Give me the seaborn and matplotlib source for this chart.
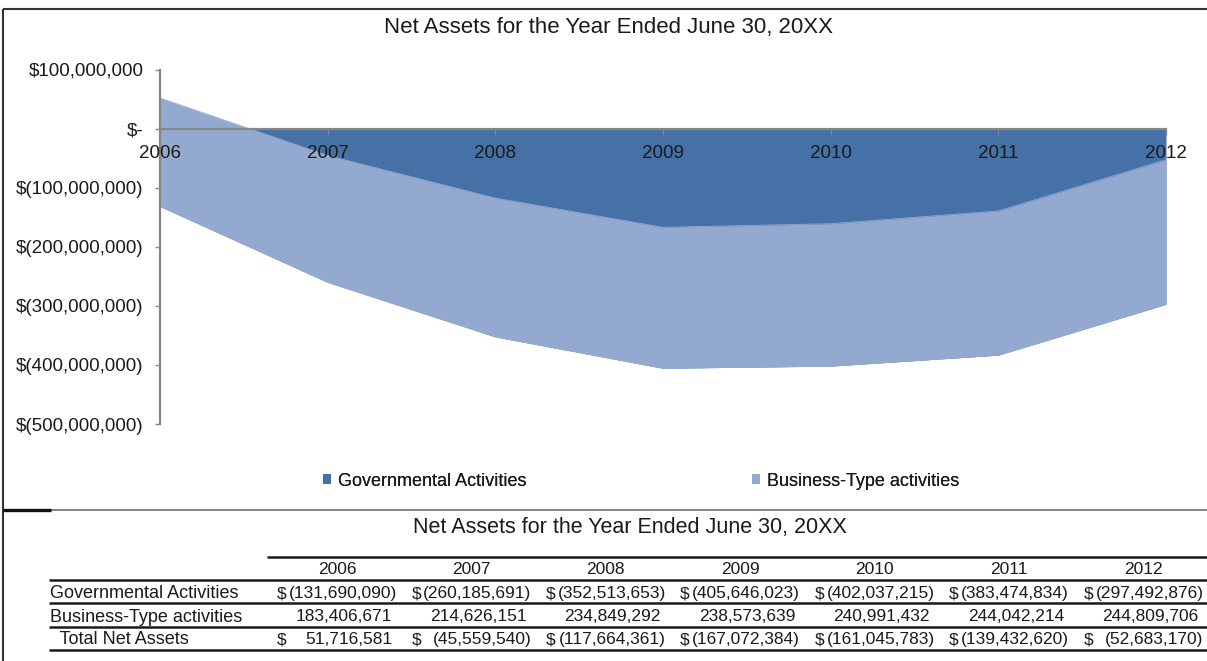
import matplotlib
matplotlib.use("Agg")
import matplotlib.pyplot as plt
from matplotlib.lines import Line2D
from matplotlib.patches import Patch
from matplotlib.ticker import FuncFormatter
import seaborn as sns

# ---- data ----
years = [2006, 2007, 2008, 2009, 2010, 2011, 2012]
gov = [-131690090, -260185691, -352513653, -405646023, -402037215, -383474834, -297492876]
bus = [183406671, 214626151, 234849292, 238573639, 240991432, 244042214, 244809706]
total = [51716581, -45559540, -117664361, -167072384, -161045783, -139432620, -52683170]
series_names = ["Governmental Activities", "Business-Type activities"]
row_labels = ["Governmental Activities", "Business-Type activities", "  Total Net Assets"]
title = "Net Assets for the Year Ended June 30, 20XX"
yticks = [100000000, 0, -100000000, -200000000, -300000000, -400000000, -500000000]

DARK = "#4571a7"
LIGHT = "#94a9d0"
GREY = "#878787"

sns.set_style("white")
plt.rcParams["font.family"] = ["Liberation Sans", "DejaVu Sans"]
plt.rcParams["text.color"] = "#1a1a1a"

W, H = 1207, 661
fig = plt.figure(figsize=(W / 100, H / 100), dpi=100)


def fx(px):
    return px / W


def fy(py):
    return 1 - py / H


ax = fig.add_axes([fx(160), fy(424), fx(1166) - fx(160), fy(69.5) - fy(424)])

# areas (stacked): governmental from 0, business on top
ax.fill_between(years, 0, gov, color=DARK, linewidth=0, zorder=1)
ax.fill_between(years, gov, total, color=LIGHT, linewidth=0, zorder=1.1)
sns.lineplot(x=years, y=gov, ax=ax, color=LIGHT, linewidth=0.6, zorder=1.2, legend=False)
sns.lineplot(x=years, y=total, ax=ax, color=LIGHT, linewidth=0.6, zorder=1.2, legend=False)

ax.set_xlim(years[0], years[-1])
ax.set_ylim(-500000000, 100000000)
ax.set_xlabel("")
ax.set_ylabel("")
ax.set_axisbelow(False)


def money(v, pos=None):
    if v == 0:
        return "$-"
    if v > 0:
        return "${:,.0f}".format(v)
    return "$({:,.0f})".format(-v)


ax.set_yticks(yticks)
ax.yaxis.set_major_formatter(FuncFormatter(money))
ax.set_xticks(years)
ax.set_xticklabels([str(y) for y in years])

for s in ["top", "right"]:
    ax.spines[s].set_visible(False)
ax.spines["bottom"].set_position(("data", 0))
for s in ["left", "bottom"]:
    ax.spines[s].set_color(GREY)
    ax.spines[s].set_linewidth(1.6)
    ax.spines[s].set_zorder(3)
ax.spines["left"].set_bounds(-500000000, 100000000)

ax.tick_params(axis="y", direction="out", length=3.8, width=1.0, color=GREY,
               labelsize=13.5, pad=8, left=True, labelcolor="#1a1a1a")
ax.tick_params(axis="x", direction="out", length=4.5, width=1.0, color=GREY,
               labelsize=13.5, pad=7.5, bottom=True, labelcolor="#1a1a1a")
ax.xaxis.set_zorder(4)
ax.yaxis.set_zorder(4)
ax.patch.set_alpha(0)

# chart title
fig.text(fx(608), fy(28), title, ha="center", va="center", fontsize=16)

# legend entries
for i, (name, col, xpos) in enumerate(zip(series_names, [DARK, LIGHT], [323, 752])):
    leg = fig.legend(handles=[Patch(facecolor=col, edgecolor="none")], labels=[name],
                     loc="center left", bbox_to_anchor=(fx(xpos), fy(481)),
                     frameon=False, fontsize=13, handlelength=0.45, handleheight=0.45,
                     handletextpad=0.4, borderpad=0, borderaxespad=0)
    fig.add_artist(leg)


# ---- borders ----
def hline(y, x0, x1, color, lw):
    fig.add_artist(Line2D([fx(x0), fx(x1)], [fy(y), fy(y)], color=color, lw=lw,
                          transform=fig.transFigure, solid_capstyle="butt"))


def vline(x, y0, y1, color, lw):
    fig.add_artist(Line2D([fx(x), fx(x)], [fy(y0), fy(y1)], color=color, lw=lw,
                          transform=fig.transFigure, solid_capstyle="butt"))


hline(9, 3, W, "#333333", 1.5)
vline(3, 9, H, "#333333", 1.5)
hline(510, 51, W, "#6e6e6e", 1.2)
hline(510, 3, 51, "#111111", 2.4)

# ---- table ----
fig.text(fx(630), fy(527), title, ha="center", va="center", fontsize=15.5)
hline(557, 267, W, "#1a1a1a", 1.8)
for y in [580, 603, 627, 650]:
    hline(y, 49, W, "#1a1a1a", 1.8)

col_step = 134.4
for i, yr in enumerate(years):
    xl = 277 + col_step * i
    xr = 397 + col_step * i
    fig.text(fx((xl + xr) / 2), fy(568), str(yr), ha="center", va="center_baseline", fontsize=12.5)

row_y = [592, 615, 638]
rows = [gov, bus, total]
for r, (lab, vals, yy) in enumerate(zip(row_labels, rows, row_y)):
    fig.text(fx(50), fy(yy), lab, ha="left", va="center_baseline", fontsize=13)
    for i, v in enumerate(vals):
        xl = 277 + col_step * i
        xr = 397 + col_step * i
        if r != 1:
            fig.text(fx(xl), fy(yy), "$", ha="left", va="center_baseline", fontsize=12.5)
        if v < 0:
            fig.text(fx(xr), fy(yy), "({:,.0f})".format(-v), ha="right", va="center_baseline", fontsize=12.5)
        else:
            fig.text(fx(xr - 5), fy(yy), "{:,.0f}".format(v), ha="right", va="center_baseline", fontsize=12.5)

fig.savefig("out.png", dpi=100)
